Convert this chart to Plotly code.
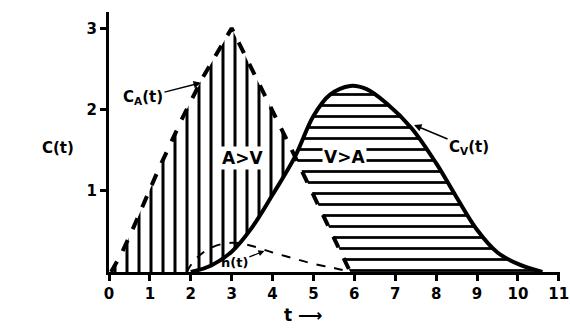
import plotly.graph_objects as go

# arterial concentration C_A(t)
ca_t = [0.05, 0.3, 0.6, 1.2, 1.8, 2.3, 3.0, 4.55, 5.9]
ca_c = [0.0, 0.22, 0.55, 1.25, 1.9, 2.4, 3.0, 1.42, 0.0]

# venous concentration C_V(t)
cv_t = [2.0, 2.5, 3.0, 3.5, 4.0, 4.55, 5.0, 5.4, 5.9, 6.3, 6.8, 7.4, 8.0, 8.5, 9.0, 9.5, 10.0, 10.6]
cv_c = [0.0, 0.08, 0.25, 0.55, 0.95, 1.42, 1.92, 2.18, 2.29, 2.25, 2.07, 1.77, 1.34, 0.92, 0.52, 0.24, 0.1, 0.0]

# h(t)
h_t = [1.9, 2.1, 2.5, 3.0, 3.5, 4.0, 4.5, 5.0, 5.5, 5.9]
h_c = [0.0, 0.15, 0.3, 0.36, 0.32, 0.24, 0.17, 0.1, 0.05, 0.0]

x_ticks = list(range(0, 12))
y_ticks = [1, 2, 3]

# crossing point index (shared by both curves)
ia = ca_t.index(4.55)
iv = cv_t.index(4.55)

# A>V region: under C_A, above C_V / axis
av_x = ca_t[:ia + 1] + cv_t[:iv + 1][::-1] + [ca_t[0]]
av_y = ca_c[:ia + 1] + cv_c[:iv + 1][::-1] + [0.0]

# V>A region: under C_V, above C_A / axis
va_x = cv_t[iv:] + ca_t[ia:][::-1]
va_y = cv_c[iv:] + ca_c[ia:][::-1]

fig = go.Figure()

fig.add_trace(go.Scatter(
    x=av_x, y=av_y, mode='lines', fill='toself', line=dict(width=0),
    fillcolor='white',
    fillpattern=dict(shape='|', size=12, solidity=0.25, fgcolor='black', bgcolor='white', fgopacity=1),
    hoverinfo='skip'))
fig.add_trace(go.Scatter(
    x=va_x, y=va_y, mode='lines', fill='toself', line=dict(width=0),
    fillcolor='white',
    fillpattern=dict(shape='-', size=11, solidity=0.25, fgcolor='black', bgcolor='white', fgopacity=1),
    hoverinfo='skip'))

fig.add_trace(go.Scatter(x=h_t, y=h_c, mode='lines', line_shape='spline',
                         line=dict(color='black', width=2, dash='dash')))
fig.add_trace(go.Scatter(x=ca_t, y=ca_c, mode='lines',
                         line=dict(color='black', width=4, dash='dash')))
fig.add_trace(go.Scatter(x=cv_t, y=cv_c, mode='lines', line_shape='spline',
                         line=dict(color='black', width=4)))

font = dict(family='DejaVu Sans', size=15, color='black', weight='bold')

fig.add_annotation(x=3.27, y=1.40, text='A>V', showarrow=False, font=dict(font, size=17),
                   bgcolor='white')
fig.add_annotation(x=5.76, y=1.41, text='V>A', showarrow=False, font=dict(font, size=17),
                   bgcolor='white')
fig.add_annotation(x=2.25, y=2.33, text='C<sub>A</sub>(t)', ax=-58, ay=15, font=font,
                   showarrow=True, arrowhead=2, arrowwidth=1.5, arrowcolor='black')
fig.add_annotation(x=7.46, y=1.81, text='C<sub>V</sub>(t)', ax=55, ay=23, font=font,
                   showarrow=True, arrowhead=2, arrowwidth=1.5, arrowcolor='black')
fig.add_annotation(x=3.8, y=0.26, text='h(t)', ax=-30, ay=12, font=dict(font, size=13),
                   showarrow=True, arrowhead=2, arrowwidth=1.2, arrowcolor='black')
fig.add_annotation(x=-0.153, y=0.477, xref='paper', yref='paper', text='C(t)',
                   showarrow=False, font=font)
fig.add_annotation(x=0.43, y=-0.21, xref='paper', yref='paper', text='t ⟶',
                   showarrow=False, font=dict(font, size=17))

fig.update_xaxes(range=[0, 11.03], tickvals=x_ticks, showline=True, linewidth=3, linecolor='black',
                 ticks='outside', ticklen=6, tickwidth=3, tickcolor='black', automargin=False,
                 showgrid=False, zeroline=False, tickfont=font)
fig.update_yaxes(range=[0, 3.2], tickvals=y_ticks, showline=True, linewidth=3, linecolor='black',
                 ticks='outside', ticklen=6, tickwidth=3, tickcolor='black', automargin=False,
                 showgrid=False, zeroline=False, tickfont=font)

fig.update_layout(width=570, height=331, showlegend=False,
                  margin=dict(l=109, r=10, t=12, b=59, autoexpand=False),
                  plot_bgcolor='white', paper_bgcolor='white')

# drop the default page margin so the figure sits at the window's corner
fig.write_html("out.html", config={'displayModeBar': False},
               post_script="document.body.style.margin='0';")
